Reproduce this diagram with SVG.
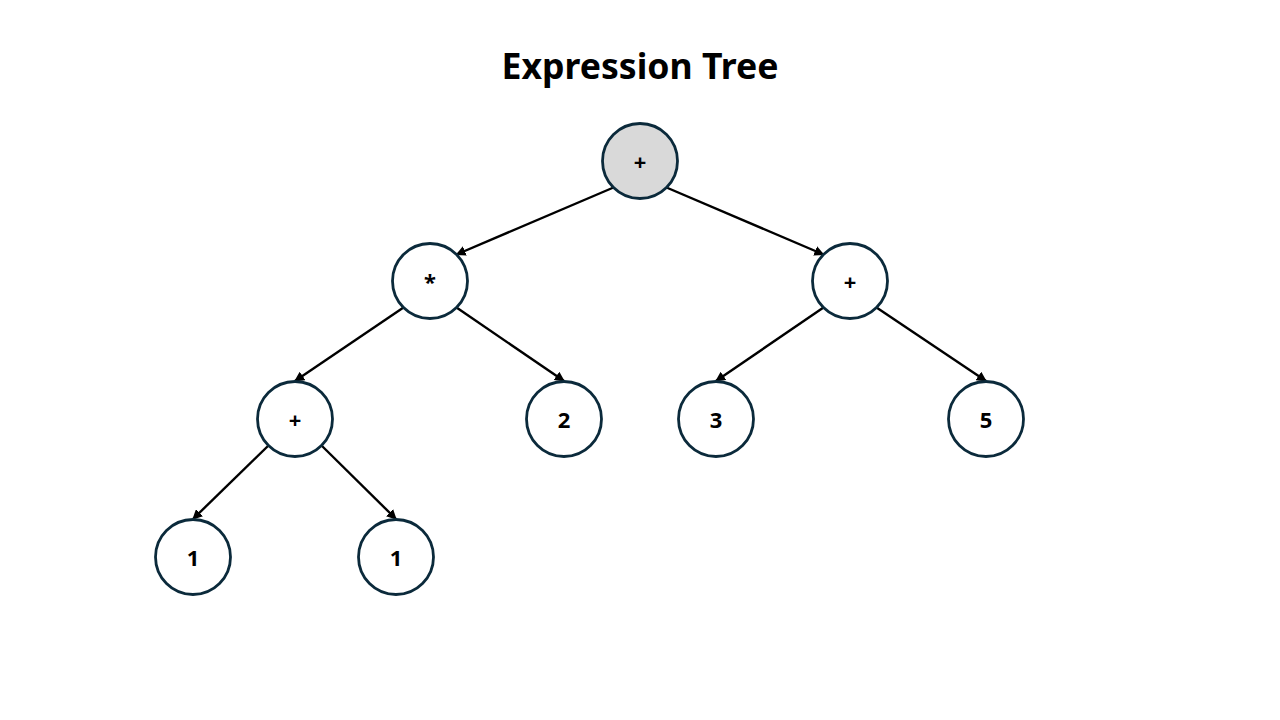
<svg xmlns="http://www.w3.org/2000/svg" width="1280" height="720" viewBox="0 0 1280 720">
  <defs>
    <marker id="arrow" viewBox="0 0 10 10" refX="9" refY="5" markerWidth="4.2" markerHeight="4.2" orient="auto" markerUnits="strokeWidth">
      <path d="M0,0 L10,5 L0,10 z" fill="#000"/>
    </marker>
    <style>
      .node circle { fill: #ffffff; stroke: #0b2a3b; stroke-width: 2.8; }
      .node.root circle { fill: #d9d9d9; }
      .node text { font-family: "Noto Sans", "Open Sans", sans-serif; font-weight: bold; font-size: 22px; fill: #000; text-anchor: middle; dominant-baseline: central; }
      .edges line { stroke: #000; stroke-width: 2.4; marker-end: url(#arrow); }
      .title { font-family: "Noto Sans", "Open Sans", sans-serif; font-weight: bold; font-size: 35.6px; fill: #000; text-anchor: middle; }
    </style>
  </defs>
  <rect width="1280" height="720" fill="#ffffff"/>

  <text class="title" x="640" y="79">Expression Tree</text>

  <g id="connectors" class="edges">
    <line x1="613.5" y1="187.5" x2="456.5" y2="254.5"/>
    <line x1="666.5" y1="187.5" x2="823.5" y2="254.5"/>
    <line x1="403.5" y1="307.5" x2="295" y2="381"/>
    <line x1="456.5" y1="307.5" x2="564" y2="381"/>
    <line x1="823.5" y1="307.5" x2="716" y2="381"/>
    <line x1="876.5" y1="307.5" x2="986" y2="381"/>
    <line x1="268.5" y1="445.5" x2="193" y2="519"/>
    <line x1="321.5" y1="445.5" x2="396" y2="519"/>
  </g>

  <g id="node-root" class="node root">
    <circle cx="640" cy="161" r="37.5"/>
    <text x="640" y="161">+</text>
  </g>
  <g id="node-mul" class="node">
    <circle cx="430" cy="281" r="37.5"/>
    <text x="430" y="281">*</text>
  </g>
  <g id="node-add-right" class="node">
    <circle cx="850" cy="281" r="37.5"/>
    <text x="850" y="281">+</text>
  </g>
  <g id="node-add-left" class="node">
    <circle cx="295" cy="419" r="37.5"/>
    <text x="295" y="419">+</text>
  </g>
  <g id="node-2" class="node">
    <circle cx="564" cy="419" r="37.5"/>
    <text x="564" y="419">2</text>
  </g>
  <g id="node-3" class="node">
    <circle cx="716" cy="419" r="37.5"/>
    <text x="716" y="419">3</text>
  </g>
  <g id="node-5" class="node">
    <circle cx="986" cy="419" r="37.5"/>
    <text x="986" y="419">5</text>
  </g>
  <g id="node-1a" class="node">
    <circle cx="193" cy="557" r="37.5"/>
    <text x="193" y="557">1</text>
  </g>
  <g id="node-1b" class="node">
    <circle cx="396" cy="557" r="37.5"/>
    <text x="396" y="557">1</text>
  </g>
</svg>
